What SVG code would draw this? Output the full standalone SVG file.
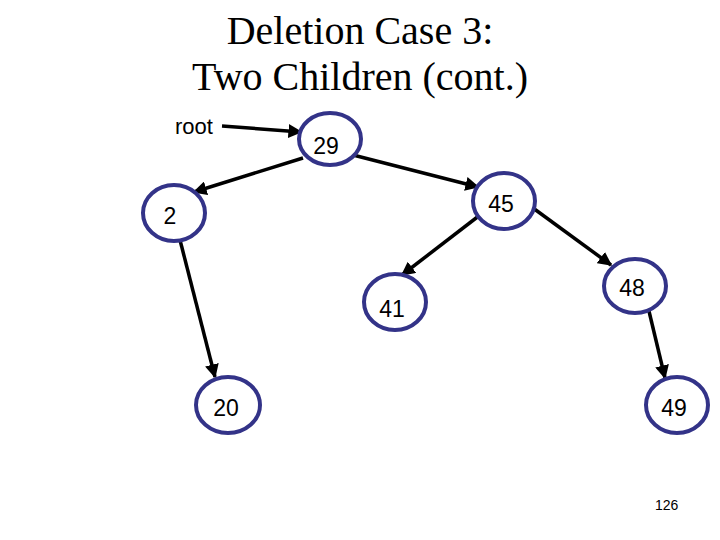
<svg xmlns="http://www.w3.org/2000/svg" width="720" height="540" viewBox="0 0 720 540">
<defs>
<style>
.title{font-family:"Liberation Serif","Times New Roman",serif;font-size:40px;fill:#000;text-anchor:middle}
.node ellipse{fill:#fff;stroke:#333388;stroke-width:4}
.node text{font-family:"Liberation Sans",Arial,sans-serif;font-size:23px;fill:#000;text-anchor:middle}
.edge{stroke:#000;stroke-width:3.5;fill:none;marker-end:url(#ah)}
.lbl{font-family:"Liberation Sans",Arial,sans-serif;font-size:22px;fill:#000}
</style>
<marker id="ah" viewBox="0 0 10 10" refX="9" refY="5" markerWidth="4" markerHeight="4" orient="auto" markerUnits="strokeWidth">
<path d="M0,0 L10,5 L0,10 z" fill="#000"/>
</marker>
</defs>
<rect width="720" height="540" fill="#fff"/>
<text class="title" x="360" y="44">Deletion Case 3:</text>
<text class="title" x="360" y="90">Two Children (cont.)</text>
<text class="lbl" x="175" y="134">root</text>
<text class="lbl" x="655" y="510" style="font-size:14px">126</text>
<g id="connectors">
<line class="edge" x1="222" y1="126" x2="301" y2="132"/>
<line class="edge" x1="303" y1="158" x2="194" y2="192"/>
<line class="edge" x1="353" y1="155" x2="478" y2="187"/>
<line class="edge" x1="480" y1="215" x2="402" y2="275"/>
<line class="edge" x1="533" y1="208" x2="611" y2="265"/>
<line class="edge" x1="180" y1="240" x2="215" y2="377"/>
<line class="edge" x1="648" y1="307" x2="665" y2="378"/>
</g>
<g id="n29" class="node"><ellipse cx="330" cy="139" rx="31" ry="26"/><text x="326" y="154">29</text></g>
<g id="n2" class="node"><ellipse cx="174" cy="213" rx="31" ry="28"/><text x="170" y="224">2</text></g>
<g id="n45" class="node"><ellipse cx="504" cy="201" rx="31" ry="28"/><text x="501" y="212">45</text></g>
<g id="n41" class="node"><ellipse cx="395" cy="302" rx="31" ry="28"/><text x="392" y="317">41</text></g>
<g id="n48" class="node"><ellipse cx="635" cy="286" rx="31" ry="27"/><text x="632" y="296">48</text></g>
<g id="n20" class="node"><ellipse cx="228" cy="405" rx="32" ry="28"/><text x="226" y="416">20</text></g>
<g id="n49" class="node"><ellipse cx="677" cy="405" rx="31" ry="28"/><text x="674" y="416">49</text></g>
</svg>
